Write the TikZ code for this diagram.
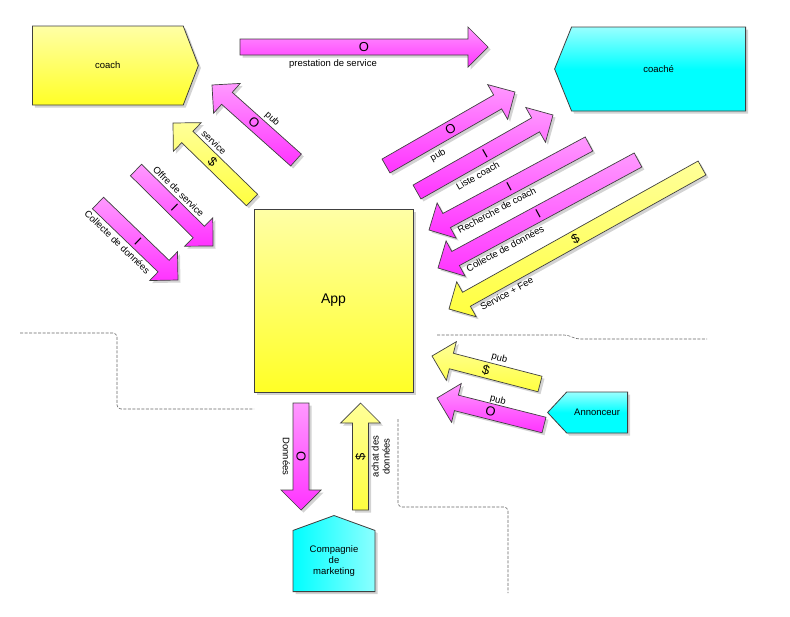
\documentclass[tikz,border=0pt]{standalone}
\usepackage{fontspec}
\setmainfont{Liberation Sans}
\usepackage{tikz}
\usetikzlibrary{calc, shapes.symbols, shadows}

% block arrow: style, tail, tip, marker
\newcommand{\flux}[4]{%
  \coordinate (#2-h) at ($(#3)!20pt!(#2)$);
  \draw[#1] ($(#2)!8pt!90:(#3)$) -- ($(#2-h)!8pt!90:(#3)$) -- ($(#2-h)!20pt!90:(#3)$) -- (#3)
    -- ($(#2-h)!20pt!-90:(#3)$) -- ($(#2-h)!8pt!-90:(#3)$) -- ($(#2)!8pt!-90:(#3)$) -- cycle;
  \path (#2) -- (#3) node[marker] (#2-m) {#4};
}

\begin{document}
\begin{tikzpicture}[
      x=1pt, y=-1pt,
      every node/.style={font=\fontsize{9.5}{11}\selectfont},
      shade/.style={drop shadow={shadow xshift=2.5pt, shadow yshift=-2.5pt, opacity=0.35}},
      yelbox/.style={draw=black!75, line width=0.8pt, top color=yellow!35!white, bottom color=yellow!85!white, shade},
      cyanbox/.style={draw=black!75, line width=0.8pt, top color=cyan!40!white, bottom color=cyan, middle color=cyan, shade},
      actor/.style={signal, inner sep=0pt, align=center},
      magflow/.style={draw=black!75, line width=0.7pt, top color=magenta!40!white, bottom color=magenta!80!white, shade},
      yelflow/.style={draw=black!75, line width=0.7pt, top color=yellow!40!white, bottom color=yellow!75!white, shade},
      marker/.style={midway, sloped, inner sep=0pt, font=\fontsize{13}{13}\selectfont},
      lbl/.style={sloped, inner sep=1pt, align=center},
      border/.style={draw=black!60, line width=0.6pt, dash pattern=on 3pt off 1.5pt, rounded corners=4pt}
  ]
      \useasboundingbox (0,0) rectangle (790,616);

      % Zones
      \draw[border] (20,333) -- (117,333) -- (117,409) -- (254,409);
      \draw[border] (437,335) -- (568,335) -- (576,339) -- (707,339);
      \draw[border] (398,419) -- (398,507) -- (508,507) -- (508,593);

      % Actors
      \node[actor, yelbox, signal to=east, signal pointer angle=138, minimum width=166pt, minimum height=79pt, anchor=west] (coach) at (32,65.5) {coach};
      \node[actor, cyanbox, signal to=west, signal pointer angle=136, minimum width=191pt, minimum height=84pt, anchor=east] (coache) at (746,69) {coaché};
      \node[actor, cyanbox, signal to=west, signal pointer angle=94, minimum width=80pt, minimum height=41pt, anchor=east] (annonceur) at (628,412.5) {Annonceur};
      \node[actor, cyanbox, left color=cyan, middle color=cyan, right color=cyan!45!white, signal to=north, signal pointer angle=140, minimum width=82pt, minimum height=70pt, anchor=south] (marketing) at (334,592) {Compagnie\\de\\marketing};
      \node[rectangle, yelbox, minimum width=159pt, minimum height=183pt, font=\fontsize{14}{16}\selectfont] (app) at (333.5,300.5) {App};

      % Flow ends
      \coordinate (prest-a) at (240,47);   \coordinate (prest-b) at (488,47);
      \coordinate (lpub-a) at (296,160);   \coordinate (lpub-b) at (212,85);
      \coordinate (lserv-a) at (252,200);  \coordinate (lserv-b) at (173,123);
      \coordinate (loffre-a) at (136,170); \coordinate (loffre-b) at (213,246);
      \coordinate (lcoll-a) at (98,203);   \coordinate (lcoll-b) at (178,280);
      \coordinate (rpub-a) at (386,166);   \coordinate (rpub-b) at (515,92);
      \coordinate (rliste-a) at (417,192); \coordinate (rliste-b) at (553,115);
      \coordinate (rrech-a) at (589,144);  \coordinate (rrech-b) at (429,230);
      \coordinate (rcoll-a) at (638,160);  \coordinate (rcoll-b) at (438,268);
      \coordinate (rfee-a) at (702,168);   \coordinate (rfee-b) at (449,309);
      \coordinate (apub-a) at (540,384);   \coordinate (apub-b) at (432,356);
      \coordinate (aoff-a) at (544,425);   \coordinate (aoff-b) at (437,398);
      \coordinate (mdon-a) at (301,403);   \coordinate (mdon-b) at (301,510);
      \coordinate (machat-a) at (360.5,510); \coordinate (machat-b) at (360.5,403);

      % Flows
      \flux{magflow}{prest-a}{prest-b}{O}
      \flux{magflow}{lpub-a}{lpub-b}{O}
      \flux{yelflow}{lserv-a}{lserv-b}{\$}
      \flux{magflow}{loffre-a}{loffre-b}{I}
      \flux{magflow}{lcoll-a}{lcoll-b}{I}
      \flux{magflow}{rpub-a}{rpub-b}{O}
      \flux{magflow}{rliste-a}{rliste-b}{I}
      \flux{magflow}{rrech-a}{rrech-b}{I}
      \flux{magflow}{rcoll-a}{rcoll-b}{I}
      \flux{yelflow}{rfee-a}{rfee-b}{\$}
      \flux{yelflow}{apub-a}{apub-b}{\$}
      \flux{magflow}{aoff-a}{aoff-b}{O}
      \flux{magflow}{mdon-a}{mdon-b}{O}
      \flux{yelflow}{machat-a}{machat-b}{\$}

      % Flow labels
      \path (prest-a) -- (prest-b) node[lbl, pos=.375, below=11pt] (prest-l) {prestation de service};
      \path (lpub-a) -- (lpub-b) node[lbl, pos=.40, above=9pt] (lpub-l) {pub};
      \path (lserv-a) -- (lserv-b) node[lbl, pos=.61, above=10pt] (lserv-l) {service};
      \path (loffre-a) -- (loffre-b) node[lbl, pos=.42, above=10pt] (loffre-l) {Offre de service};
      \path (lcoll-a) -- (lcoll-b) node[lbl, pos=.37, below=10pt] (lcoll-l) {Collecte de données};
      \path (rpub-a) -- (rpub-b) node[lbl, pos=.34, below=11pt] (rpub-l) {pub};
      \path (rliste-a) -- (rliste-b) node[lbl, pos=.39, below=11pt] (rliste-l) {Liste coach};
      \path (rrech-a) -- (rrech-b) node[lbl, pos=.62, below=10pt] (rrech-l) {Recherche de coach};
      \path (rcoll-a) -- (rcoll-b) node[lbl, pos=.70, below=10pt] (rcoll-l) {Collecte de données};
      \path (rfee-a) -- (rfee-b) node[lbl, pos=.80, below=10pt] (rfee-l) {Service + Fee};
      \path (apub-a) -- (apub-b) node[lbl, pos=.41, above=9pt] (apub-l) {pub};
      \path (aoff-a) -- (aoff-b) node[lbl, pos=.46, above=7pt] (aoff-l) {pub};
      \path (mdon-a) -- (mdon-b) node[lbl, pos=.5, below=10pt] (mdon-l) {Données};
      \path (machat-a) -- (machat-b) node[lbl, pos=.5, below=10pt] (machat-l) {achat des\\données};

  \end{tikzpicture}
\end{document}
